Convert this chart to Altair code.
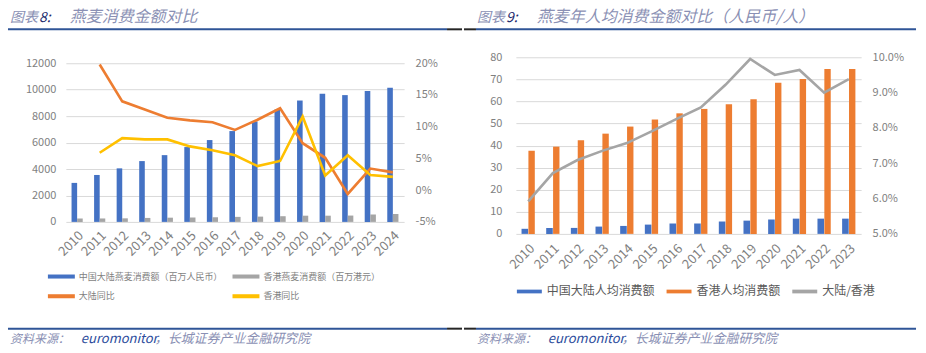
import altair as alt
import pandas as pd

# ---------------- data: left chart ----------------
years = [str(y) for y in range(2010, 2025)]
mainland_sales = [2950, 3550, 4050, 4600, 5050, 5660, 6190, 6870, 7600, 8500, 9180, 9690, 9590, 9910, 10140]
hk_sales = [250, 260, 270, 300, 320, 330, 350, 380, 400, 430, 470, 470, 480, 560, 600]
mainland_yoy = [None, 19.8, 14.0, 12.7, 11.4, 11.0, 10.7, 9.5, 11.1, 12.9, 7.4, 5.1, -0.6, 3.4, 2.8]
hk_yoy = [None, 5.9, 8.2, 8.0, 8.0, 6.9, 6.3, 5.5, 3.8, 4.6, 11.6, 2.3, 5.5, 2.4, 2.1]
left_series = ["中国大陆燕麦消费额（百万人民币）", "香港燕麦消费额（百万港元）", "大陆同比", "香港同比"]
left_colors = ["#4472C4", "#A5A5A5", "#ED7D31", "#FFC000"]
left_ticks = [0, 2000, 4000, 6000, 8000, 10000, 12000]
left_pct_ticks = [-5, 0, 5, 10, 15, 20]

# ---------------- data: right chart ----------------
years2 = [str(y) for y in range(2010, 2024)]
mainland_pc = [2.3, 2.7, 2.7, 3.3, 3.6, 4.2, 4.7, 4.7, 5.6, 6.0, 6.5, 6.9, 6.9, 6.9]
hk_pc = [37.6, 39.5, 42.4, 45.4, 48.6, 51.8, 54.6, 56.6, 58.7, 61.0, 68.4, 70.2, 74.7, 74.7]
ratio_pct = [5.92, 6.72, 7.09, 7.35, 7.57, 7.90, 8.25, 8.58, 9.22, 9.95, 9.50, 9.64, 9.00, 9.38]
right_series = ["中国大陆人均消费额", "香港人均消费额", "大陆/香港"]
right_colors = ["#4472C4", "#ED7D31", "#A5A5A5"]
right_ticks = [0, 10, 20, 30, 40, 50, 60, 70, 80]
right_pct_ticks = [5, 6, 7, 8, 9, 10]

# ---------------- texts ----------------
title1_a, title1_b, title1_c = "图表", "8:", "燕麦消费金额对比"
title2_a, title2_b, title2_c = "图表", "9:", "燕麦年人均消费金额对比（人民币/人）"
src_a, src_b, src_c = "资料来源：", "euromonitor", "，长城证券产业金融研究院"

FONT = "Noto Sans CJK SC"
LIGHT = "#8a90b4"
DARK = "#1f2d6e"
RULE_BLUE = "#2F5597"
LABEL_GRAY = "#7f7f7f"
BAR_SYMBOL = "M -1 -0.15 L 1 -0.15 L 1 0.15 L -1 0.15 Z"

one = pd.DataFrame({"k": [0]})

bar_l_main = pd.DataFrame({"year": years, "series": left_series[0], "value": mainland_sales})
bar_l_hk = pd.DataFrame({"year": years, "series": left_series[1], "value": hk_sales})
line_l = pd.DataFrame({
    "year": years * 2,
    "series": [left_series[2]] * len(years) + [left_series[3]] * len(years),
    "value": mainland_yoy + hk_yoy,
}).dropna()

bar_r_main = pd.DataFrame({"year": years2, "series": right_series[0], "value": mainland_pc})
bar_r_hk = pd.DataFrame({"year": years2, "series": right_series[1], "value": hk_pc})
line_r = pd.DataFrame({"year": years2, "series": right_series[2], "value": ratio_pct})


def deco(x0, x1, blue_x0, blue_x1, dark_x0, dark_x1, texts):
    """decorative layers: invisible extent box, rules, titles, source"""
    layers = [alt.Chart(one).mark_rect(opacity=0).encode(
        x=alt.value(x0), x2=alt.value(x1), y=alt.value(-57), y2=alt.value(296))]
    for yy in (-28, 272):
        layers.append(alt.Chart(one).mark_rule(color=RULE_BLUE, strokeWidth=2).encode(
            x=alt.value(blue_x0), x2=alt.value(blue_x1), y=alt.value(yy)))
        layers.append(alt.Chart(one).mark_rule(color="#262626", strokeWidth=2).encode(
            x=alt.value(dark_x0), x2=alt.value(dark_x1), y=alt.value(yy)))
    for txt, xx, yy, size, col in texts:
        layers.append(alt.Chart(one).mark_text(
            text=txt, font=FONT, fontSize=size, fontStyle="italic", color=col,
            align="left", baseline="alphabetic").encode(x=alt.value(xx), y=alt.value(yy)))
    return layers


def yaxis(values, pad, orient="left", expr=None, grid=True):
    kw = dict(title=None, orient=orient, values=values, tickCount=40, grid=grid, gridColor="#d9d9d9",
              domain=False, ticks=False, labelPadding=pad, labelFont=FONT, labelFontSize=11,
              labelColor=LABEL_GRAY, labelOverlap=False, format="d")
    if expr:
        kw["labelExpr"] = expr
    return alt.Axis(**kw)


def xaxis(pad):
    return alt.Axis(title=None, labelAngle=-45, domain=False, ticks=False, labelPadding=pad,
                    labelFont=FONT, labelFontSize=13, labelColor=LABEL_GRAY, labelOverlap=False)


# ---------- left chart ----------
W1, H1 = 339, 165
xl = alt.X("year:N", scale=alt.Scale(domain=years, paddingInner=0.5, paddingOuter=0.25), axis=xaxis(7))
cscale_l = alt.Scale(domain=left_series, range=left_colors)
yl = alt.Y("value:Q", scale=alt.Scale(domain=[0, 12000 * H1 / 159], nice=False, zero=False),
           axis=yaxis(left_ticks, 10))
leg_l = alt.Legend(
    title=None, orient="none", legendX=-18, legendY=206, columns=2, direction="horizontal",
    columnPadding=9, rowPadding=1, symbolType=BAR_SYMBOL, symbolSize=729,
    symbolStrokeWidth=0, labelOffset=4, labelFont=FONT, labelFontSize=9, labelColor=LABEL_GRAY,
    labelLimit=300)

bars_left_main = alt.Chart(bar_l_main).mark_bar(width=5.6, xOffset=-2.8).encode(
    x=xl, y=yl, color=alt.Color("series:N", scale=cscale_l, legend=leg_l))
bars_left_hk = alt.Chart(bar_l_hk).mark_bar(width=5.6, xOffset=2.8).encode(
    x=xl, y=yl, color=alt.Color("series:N", scale=cscale_l, legend=leg_l))
lines_left = alt.Chart(line_l).mark_line(strokeWidth=2.6).encode(
    x=xl,
    y=alt.Y("value:Q", scale=alt.Scale(domain=[-5, -5 + 25 * H1 / 159], nice=False, zero=False),
            axis=yaxis(left_pct_ticks, 11, "right", "datum.value + '%'", False)),
    color=alt.Color("series:N", scale=cscale_l, legend=None),
    order=alt.Order("series:N"),
)

texts_l = [
    (title1_a, -56, -35, 14, LIGHT), (title1_b, -27, -35, 14, DARK), (title1_c, 4, -35, 16, LIGHT),
    (src_a, -56, 286, 12, LIGHT), (src_b, 15, 286, 13, "#2c4c9c"), (src_c, 89, 286, 13, LIGHT),
]
bg_l = alt.layer(*deco(-66, 397, -58, 382, 382, 397, texts_l))
bars_l = alt.layer(bars_left_main, bars_left_hk)
left = alt.layer(bg_l, bars_l, lines_left).resolve_scale(y="independent").properties(width=W1, height=H1)

# ---------- right chart ----------
W2, H2 = 346, 177
xr = alt.X("year:N", scale=alt.Scale(domain=years2, paddingInner=0.46, paddingOuter=0.23), axis=xaxis(8))
cscale_r = alt.Scale(domain=right_series, range=right_colors)
yr = alt.Y("value:Q", scale=alt.Scale(domain=[0, 80], nice=False), axis=yaxis(right_ticks, 14))
leg_r = alt.Legend(
    title=None, orient="none", legendX=1, legendY=222, direction="horizontal", columns=3,
    columnPadding=11, symbolType=BAR_SYMBOL, symbolSize=625,
    symbolStrokeWidth=0, labelOffset=5, labelFont=FONT, labelFontSize=12, labelColor="#595959",
    labelLimit=300)
bars_right_main = alt.Chart(bar_r_main).mark_bar(width=6.6, xOffset=-3.4).encode(
    x=xr, y=yr, color=alt.Color("series:N", scale=cscale_r, legend=leg_r))
bars_right_hk = alt.Chart(bar_r_hk).mark_bar(width=6.4, xOffset=3.4).encode(
    x=xr, y=yr, color=alt.Color("series:N", scale=cscale_r, legend=leg_r))
lines_right = alt.Chart(line_r).mark_line(strokeWidth=2.6).encode(
    x=xr,
    y=alt.Y("value:Q", scale=alt.Scale(domain=[5, 10], nice=False, zero=False),
            axis=yaxis(right_pct_ticks, 11, "right", "format(datum.value, '.1f') + '%'", False)),
    color=alt.Color("series:N", scale=cscale_r, legend=None),
)
texts_r = [
    (title2_a, -39, -35, 14, LIGHT), (title2_b, -10, -35, 14, DARK), (title2_c, 21, -35, 16, LIGHT),
    (src_a, -39, 286, 12, LIGHT), (src_b, 32, 286, 13, "#2c4c9c"), (src_c, 106, 286, 13, LIGHT),
]
bg_r = alt.layer(*deco(-52, 411, -40, 401, -52, -40, texts_r))
bars_r = alt.layer(bars_right_main, bars_right_hk)
right = alt.layer(bg_r, bars_r, lines_right).resolve_scale(y="independent").properties(width=W2, height=H2)

chart = alt.hconcat(left, right, spacing=0).resolve_scale(color="independent").properties(
    padding=0, background="white"
).configure_view(stroke=None)

chart.save("out.html", embed_options={"renderer": "svg", "actions": False})
